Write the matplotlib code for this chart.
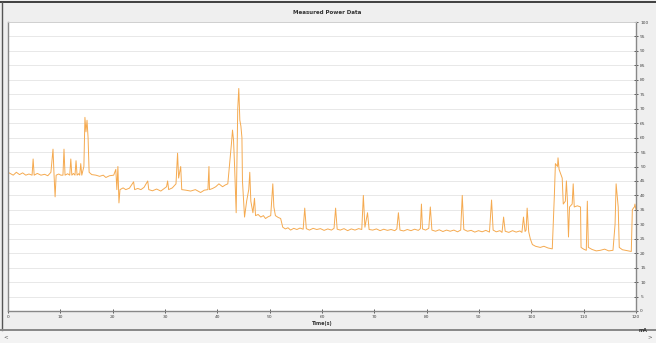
import matplotlib
matplotlib.use("Agg")
import matplotlib.pyplot as plt
from matplotlib.lines import Line2D
from matplotlib.patches import Rectangle

title = "Measured Power Data"
x_label = "Time(s)"
unit_label = "mA"
x_ticks = [0, 10, 20, 30, 40, 50, 60, 70, 80, 90, 100, 110, 120]
y_ticks = list(range(0, 101, 5))

time_s = [
    0.0, 0.5, 1.0, 1.6, 2.2, 2.8, 3.4, 4.0, 4.6, 4.8, 5.0, 5.6, 6.3, 7.0, 7.6, 8.2, 8.6, 8.8, 9.0, 9.2,
    9.7, 10.1, 10.5, 10.7, 10.9, 11.4, 11.8, 12.0, 12.2, 12.5, 12.8, 13.0, 13.2, 13.5, 13.7, 13.9, 14.1,
    14.5, 14.7, 14.9, 15.1, 15.3, 15.5, 16.0, 16.8, 17.5, 18.2, 18.7, 19.4, 20.2,
    20.6, 20.8, 21.0, 21.2, 21.4, 22.0, 22.5, 23.2, 24.0, 24.2, 24.8, 25.4, 26.0, 26.7, 26.9,
    27.6, 28.4, 29.2, 29.8, 30.3, 30.5, 30.7, 31.4, 32.1, 32.4, 32.6, 33.0, 33.2, 34.0, 34.9,
    35.8, 36.8, 37.5, 38.2, 38.4, 38.5, 39.1, 39.7, 40.3, 41.0, 41.5, 42.0,
    42.4, 42.7, 42.9, 43.1, 43.3, 43.6, 43.9, 44.1, 44.3, 44.5, 44.7, 44.8, 45.2, 45.6, 46.0,
    46.2, 46.4, 46.8, 47.1, 47.3, 47.8, 48.3, 48.8, 49.2, 49.7, 50.2, 50.6, 50.8, 51.1, 51.6, 52.1,
    52.5, 53.0, 53.5, 54.0, 54.6, 55.2, 55.8, 56.4, 56.7, 57.0, 57.6, 58.3, 59.0, 59.7, 60.4, 61.1,
    61.8, 62.3, 62.6, 62.9, 63.5, 64.2, 64.9, 65.6, 66.3, 67.0, 67.6, 67.9, 68.2, 68.7, 69.0, 69.7,
    70.4, 71.1, 71.8, 72.5, 73.2, 73.9, 74.3, 74.6, 74.9, 75.6, 76.3, 77.0, 77.7, 78.4, 78.8, 79.0,
    79.2, 79.8, 80.4, 80.7, 81.0, 81.7, 82.4, 83.1, 83.8, 84.5, 85.2, 85.9, 86.5, 86.8, 87.1, 87.8,
    88.5, 89.2, 89.9, 90.6, 91.3, 92.0, 92.4, 92.7, 93.3, 94.0, 94.4, 94.7, 95.0, 95.7, 96.4, 97.1,
    97.8, 98.2, 98.5, 98.8, 99.0, 99.2, 99.5, 99.8, 100.2, 100.8, 101.7, 102.4, 103.2, 104.0,
    104.4, 104.6, 105.0, 105.1, 105.3, 105.5, 105.9, 106.1, 106.5, 106.7, 106.9, 107.1, 107.3,
    107.8, 108.0, 108.2, 108.8, 109.4, 109.5, 110.0, 110.5, 110.7, 110.9, 111.6, 112.4, 113.2,
    114.0, 114.8, 115.6, 116.0, 116.2, 116.4, 116.6, 116.8, 117.4, 118.0, 118.6, 119.1, 119.3,
    119.5, 119.7, 119.8, 120.0,
]
current_ma = [
    48.0, 47.5, 47.0, 48.0, 47.2, 47.8, 47.0, 47.4, 47.0, 52.6, 47.0, 47.6, 47.0, 47.3, 46.8, 48.0, 56.0, 47.0, 39.5, 47.0,
    47.4, 47.0, 47.0, 56.0, 47.0, 47.5, 47.0, 52.6, 47.0, 47.6, 47.0, 52.0, 47.0, 47.5, 47.0, 51.0, 47.0,
    50.0, 67.0, 62.0, 66.0, 60.0, 48.0, 47.2, 47.0, 46.6, 47.0, 46.2, 46.8, 47.0,
    49.0, 42.0, 50.0, 37.4, 42.0, 42.6, 42.0, 42.5, 44.7, 42.0, 42.4, 42.0, 42.8, 45.0, 42.0,
    41.6, 42.2, 41.5, 42.3, 43.0, 45.0, 42.0, 42.6, 44.0, 54.6, 46.0, 50.0, 42.0, 41.8, 41.5,
    42.0, 41.0, 41.8, 42.0, 50.0, 42.0, 42.4, 43.0, 44.0, 43.0, 43.6, 44.0,
    52.0, 58.0, 62.6, 59.0, 50.0, 34.0, 70.0, 77.0, 66.0, 64.0, 60.0, 45.0, 32.5, 38.0, 42.0,
    48.0, 38.0, 34.0, 39.0, 33.0, 33.4, 32.5, 33.0, 32.0, 32.6, 33.0, 44.0, 36.0, 33.0, 32.4, 32.0,
    29.0, 28.4, 28.8, 28.0, 28.6, 28.2, 28.7, 28.3, 35.6, 28.5, 28.0, 28.6, 28.2, 28.5, 27.9, 28.4,
    28.0, 28.6, 35.6, 28.3, 28.0, 28.5, 27.8, 28.4, 28.0, 28.5, 28.2, 40.0, 29.0, 34.0, 28.2, 28.0,
    28.4, 27.8, 28.3, 27.9, 28.2, 27.8, 28.4, 34.0, 28.0, 27.7, 28.2, 27.8, 28.3, 27.9, 28.5, 37.0,
    28.4, 28.0, 28.6, 36.0, 28.0, 27.6, 28.1, 27.5, 28.0, 27.6, 28.0, 27.4, 28.0, 40.0, 28.2, 27.6,
    27.9, 27.3, 27.8, 27.4, 27.9, 27.3, 38.4, 28.0, 27.4, 27.8, 27.2, 32.5, 27.6, 27.2, 27.8, 27.3,
    27.7, 27.2, 32.5, 27.5, 28.0, 35.6, 27.4, 25.0, 23.0, 22.4, 22.0, 22.4, 21.8, 21.5,
    40.0, 51.0, 50.0, 53.0, 49.0, 48.0, 46.0, 37.0, 38.0, 45.0, 38.0, 25.6, 36.0,
    37.0, 44.0, 36.0, 36.4, 36.0, 22.0, 21.4, 21.0, 38.0, 22.0, 21.3, 20.8, 21.0,
    21.4, 20.8, 21.0, 30.0, 44.0, 40.0, 36.0, 22.0, 21.2, 21.0, 20.8, 20.6, 35.0,
    35.6, 36.0, 37.0, 35.0,
]

W, H = 656, 343
fig = plt.figure(figsize=(W / 100, H / 100), dpi=100, facecolor="#efefef")

# window decorations
fig.add_artist(Line2D([0, 1], [1 - 2 / H, 1 - 2 / H], color="#222222", lw=1.2))
fig.add_artist(Line2D([2 / W, 2 / W], [13 / H, 1 - 2 / H], color="#555555", lw=1.0))
fig.add_artist(Line2D([0, 1], [13 / H, 13 / H], color="#888888", lw=1.4))
fig.add_artist(Rectangle((0, 0), 1, 12 / H, transform=fig.transFigure,
                         facecolor="#f3f3f3", edgecolor="none"))
fig.text(6 / W, 6 / H, "<", fontsize=4, ha="center", va="center", color="#555555")
fig.text(1 - 6 / W, 6 / H, ">", fontsize=4, ha="center", va="center", color="#555555")
fig.text(327 / W, 1 - 12 / H, title, fontsize=4, fontweight="bold",
         ha="center", va="center", color="#333333")
fig.text(643 / W, 1 - 330 / H, unit_label, fontsize=3.5, fontweight="bold",
         ha="center", va="center", color="#333333")

ax = fig.add_axes([8 / W, 1 - 311 / H, (636 - 8) / W, (311 - 22) / H])
ax.set_facecolor("white")
ax.plot(time_s, current_ma, color="#f5aa50", lw=0.7)
ax.set_xlim(0, 120)
ax.set_ylim(0, 100)
ax.set_xticks(x_ticks)
ax.set_yticks(y_ticks)
ax.yaxis.tick_right()
ax.tick_params(axis="both", labelsize=3.2, colors="#444444", length=3,
               width=0.6, direction="inout", pad=1.5)
ax.grid(axis="y", color="#e8e8e8", lw=0.7)
ax.set_axisbelow(True)
for side in ["left", "bottom", "right"]:
    ax.spines[side].set_color("#888888")
    ax.spines[side].set_linewidth(1.0)
ax.spines["top"].set_color("#cccccc")
ax.spines["top"].set_linewidth(0.6)
ax.set_xlabel(x_label, fontsize=3.5, fontweight="bold", color="#333333", labelpad=1)

fig.savefig("out.png", dpi=100, facecolor=fig.get_facecolor())
